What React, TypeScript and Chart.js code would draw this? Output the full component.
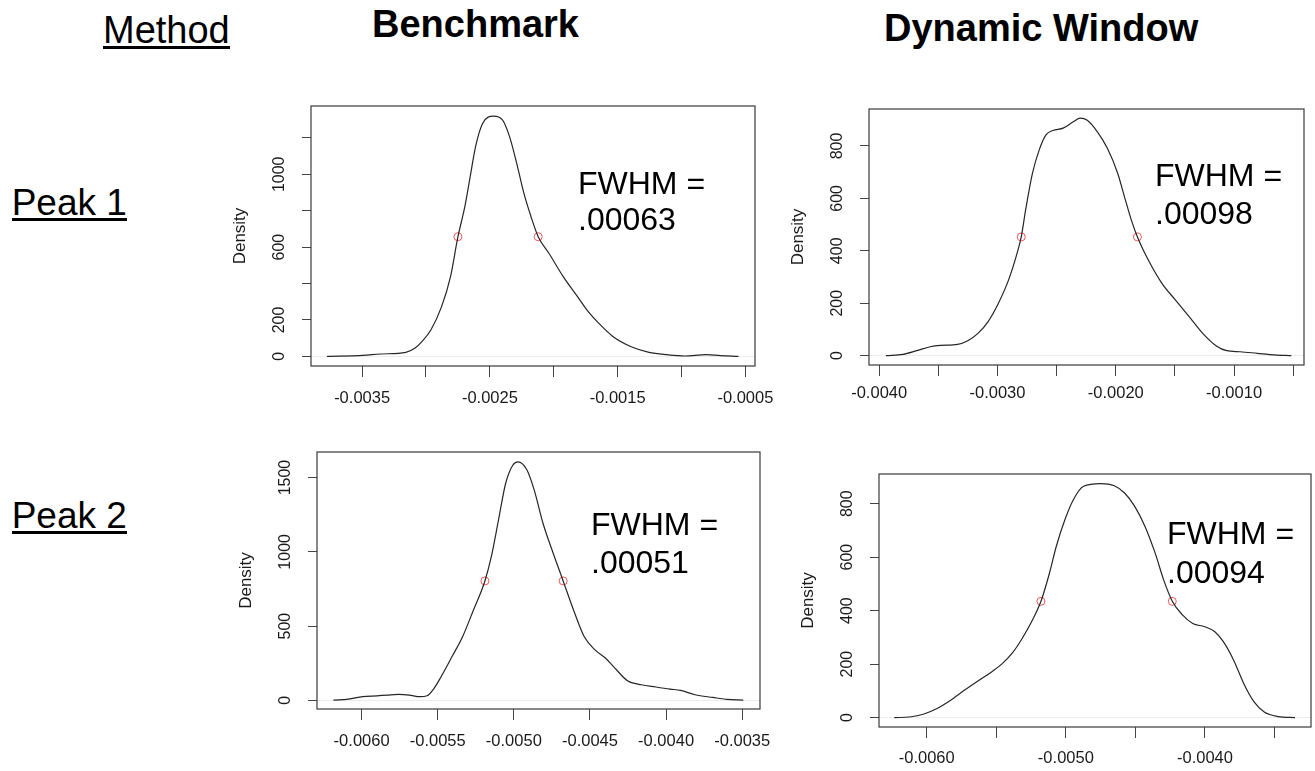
import React, { useEffect, useRef } from "react";
import { Chart, registerables } from "chart.js";

Chart.register(...registerables);
Chart.defaults.font.family = '"Liberation Sans", Arial, Helvetica, sans-serif';

// ---------- Data: Benchmark, Peak 1 ----------
const bmP1X = [-0.003775, -0.003494, -0.003354, -0.003158, -0.003088, -0.003032, -0.002962, -0.002878, -0.002808, -0.00275, -0.002696, -0.002654, -0.002612, -0.002556, -0.002472, -0.002402, -0.002346, -0.00229, -0.002234, -0.002178, -0.002122, -0.002038, -0.001926, -0.001814, -0.00173, -0.001647, -0.001535, -0.001394, -0.001254, -0.001115, -0.000975, -0.000807, -0.000695, -0.000555];
const bmP1Y = [0, 5, 13, 22, 44, 81, 145, 273, 438, 657, 822, 987, 1152, 1280, 1319, 1299, 1207, 1060, 896, 767, 657, 566, 438, 328, 245, 181, 108, 53, 22, 9, 2, 9, 4, 0];
const bmP1HalfX = [-0.00275, -0.002122];
const bmP1HalfY = [657, 657];
const bmP1XTicks = [-0.0035, -0.003, -0.0025, -0.002, -0.0015, -0.001, -0.0005];
const bmP1XLabels = ["-0.0035", "", "-0.0025", "", "-0.0015", "", "-0.0005"];
const bmP1YTicks = [0, 200, 400, 600, 800, 1000, 1200];
const bmP1YLabels = ["0", "200", "", "600", "", "1000", ""];

// ---------- Data: Dynamic Window, Peak 1 ----------
const dwP1X = [-0.003942, -0.003798, -0.003683, -0.003568, -0.003482, -0.003338, -0.003251, -0.003165, -0.003079, -0.002992, -0.002906, -0.002834, -0.002799, -0.002762, -0.002704, -0.002647, -0.00259, -0.002532, -0.002445, -0.002359, -0.002301, -0.002244, -0.002157, -0.002071, -0.001984, -0.001927, -0.001869, -0.001817, -0.001725, -0.00161, -0.001495, -0.00138, -0.001265, -0.00115, -0.001063, -0.000948, -0.000804, -0.00066, -0.000516];
const dwP1Y = [0, 5, 19, 34, 39, 43, 57, 85, 130, 200, 289, 391, 453, 556, 696, 785, 842, 859, 868, 892, 906, 899, 855, 791, 696, 607, 518, 453, 365, 276, 212, 149, 85, 37, 19, 15, 9, 3, 0];
const dwP1HalfX = [-0.002799, -0.001817];
const dwP1HalfY = [453, 453];
const dwP1XTicks = [-0.004, -0.0035, -0.003, -0.0025, -0.002, -0.0015, -0.001, -0.0005];
const dwP1XLabels = ["-0.0040", "", "-0.0030", "", "-0.0020", "", "-0.0010", ""];
const dwP1YTicks = [0, 200, 400, 600, 800];
const dwP1YLabels = ["0", "200", "400", "600", "800"];

// ---------- Data: Benchmark, Peak 2 ----------
const bmP2X = [-0.006185, -0.006087, -0.005993, -0.005899, -0.005829, -0.005758, -0.005688, -0.005617, -0.00557, -0.005523, -0.005477, -0.005406, -0.005336, -0.005265, -0.00519, -0.005148, -0.005101, -0.005054, -0.005007, -0.004972, -0.004913, -0.004866, -0.004808, -0.004749, -0.004676, -0.004608, -0.004538, -0.004467, -0.004397, -0.004326, -0.004256, -0.004162, -0.004068, -0.003974, -0.003904, -0.00381, -0.003693, -0.003599, -0.003493];
const bmP2Y = [2, 9, 25, 31, 36, 40, 36, 25, 31, 83, 161, 295, 430, 609, 804, 967, 1213, 1460, 1583, 1605, 1549, 1415, 1191, 1012, 804, 609, 430, 340, 284, 206, 134, 105, 90, 76, 67, 38, 20, 7, 2];
const bmP2HalfX = [-0.00519, -0.004676];
const bmP2HalfY = [804, 804];
const bmP2XTicks = [-0.006, -0.0055, -0.005, -0.0045, -0.004, -0.0035];
const bmP2XLabels = ["-0.0060", "-0.0055", "-0.0050", "-0.0045", "-0.0040", "-0.0035"];
const bmP2YTicks = [0, 500, 1000, 1500];
const bmP2YLabels = ["0", "500", "1000", "1500"];

// ---------- Data: Dynamic Window, Peak 2 ----------
const dwP2X = [-0.006233, -0.006123, -0.006025, -0.005926, -0.005828, -0.00573, -0.005632, -0.005534, -0.005461, -0.005387, -0.005314, -0.00524, -0.005179, -0.005118, -0.005069, -0.005007, -0.004946, -0.004873, -0.00475, -0.004652, -0.004578, -0.004505, -0.004431, -0.004358, -0.004297, -0.004235, -0.004162, -0.004088, -0.004002, -0.003929, -0.003868, -0.003794, -0.003721, -0.003647, -0.003574, -0.003475, -0.003353];
const dwP2Y = [0, 2.5, 12.5, 34, 65, 102, 137, 171, 200, 240, 296, 365, 435, 540, 640, 740, 815, 865, 875, 867, 840, 790, 715, 615, 515, 435, 384, 352, 340, 321, 284, 215, 127, 59, 21, 4, 0];
const dwP2HalfX = [-0.005179, -0.004235];
const dwP2HalfY = [435, 435];
const dwP2XTicks = [-0.006, -0.0055, -0.005, -0.0045, -0.004, -0.0035];
const dwP2XLabels = ["-0.0060", "", "-0.0050", "", "-0.0040", ""];
const dwP2YTicks = [0, 200, 400, 600, 800];
const dwP2YLabels = ["0", "200", "400", "600", "800"];

// ---------- Text ----------
const fwhmPrefix = "FWHM =";
const fwhmValues = [".00063", ".00098", ".00051", ".00094"];
const columnTitles = ["Benchmark", "Dynamic Window"];
const rowTitles = ["Peak 1", "Peak 2"];
const cornerTitle = "Method";
const yAxisTitle = "Density";

// ---------- Layout ----------
const PAD_L = 100;
const PAD_T = 10;
const PAD_R = 45;
const PAD_B = 55;
const X_TICK_FONT = 16.5;
const X_TICK_LEN = 11;

type Box = { l: number; t: number; r: number; b: number };

type PanelProps = {
  xs: number[];
  ys: number[];
  hx: number[];
  hy: number[];
  xTicks: number[];
  xLabels: string[];
  yTicks: number[];
  yLabels: string[];
  xMin: number;
  xMax: number;
  yMin: number;
  yMax: number;
  box: Box;
  xLabelOffset: number;
};

function Panel(p: PanelProps) {
  const ref = useRef<HTMLCanvasElement>(null);
  const w = p.box.r - p.box.l + PAD_L + PAD_R;
  const h = p.box.b - p.box.t + PAD_T + PAD_B;

  useEffect(() => {
    const canvas = ref.current;
    if (!canvas) return;
    const framePlugin = {
      id: "frame",
      afterDraw(chart: any) {
        const { ctx, chartArea } = chart;
        const { left, top, right, bottom } = chartArea;
        ctx.save();
        ctx.strokeStyle = "#3a3a3a";
        ctx.lineWidth = 1.2;
        ctx.strokeRect(left, top, right - left, bottom - top);
        const ys = chart.scales.y;
        ctx.fillStyle = "#1a1a1a";
        ctx.font = '16px "Liberation Sans", Arial, sans-serif';
        ctx.textAlign = "center";
        ctx.textBaseline = "middle";
        p.yTicks.forEach((v, i) => {
          const lab = p.yLabels[i];
          if (!lab) return;
          const py = ys.getPixelForValue(v);
          ctx.save();
          ctx.translate(left - 31, py);
          ctx.rotate(-Math.PI / 2);
          ctx.fillText(lab, 0, 0);
          ctx.restore();
        });
        ctx.font = '17px "Liberation Sans", Arial, sans-serif';
        ctx.save();
        ctx.translate(left - 71, (top + bottom) / 2);
        ctx.rotate(-Math.PI / 2);
        ctx.fillText(yAxisTitle, 0, 0);
        ctx.restore();
        ctx.restore();
      },
    };

    const chart = new Chart(canvas, {
      type: "line",
      data: {
        datasets: [
          {
            data: p.xs.map((x, i) => ({ x, y: p.ys[i] })),
            borderColor: "#262626",
            borderWidth: 1.2,
            pointRadius: 0,
            cubicInterpolationMode: "monotone",
            fill: false,
          } as any,
          {
            type: "scatter",
            data: p.hx.map((x, i) => ({ x, y: p.hy[i] })),
            pointStyle: "circle",
            pointRadius: 4,
            borderColor: "rgba(235,60,60,0.85)",
            backgroundColor: "rgba(0,0,0,0)",
            borderWidth: 1,
            showLine: false,
          } as any,
        ],
      },
      options: {
        responsive: false,
        animation: false,
        events: [],
        layout: { padding: { left: 0, top: PAD_T, right: PAD_R, bottom: 0 } },
        plugins: { legend: { display: false }, tooltip: { enabled: false } },
        scales: {
          x: {
            type: "linear",
            position: "bottom",
            min: p.xMin,
            max: p.xMax,
            afterBuildTicks: (s: any) => {
              s.ticks = p.xTicks.map((v) => ({ value: v }));
            },
            afterFit: (s: any) => {
              s.height = PAD_B;
            },
            grid: {
              drawOnChartArea: false,
              drawTicks: true,
              tickLength: X_TICK_LEN,
              tickColor: "#444",
              tickWidth: 1,
            },
            border: { display: false },
            ticks: {
              autoSkip: false,
              minRotation: 0,
              maxRotation: 0,
              padding: p.xLabelOffset - X_TICK_LEN - X_TICK_FONT * 0.6,
              color: "#1a1a1a",
              font: { size: X_TICK_FONT },
              callback: (_v: any, i: number) => p.xLabels[i],
            },
          },
          y: {
            type: "linear",
            min: p.yMin,
            max: p.yMax,
            afterBuildTicks: (s: any) => {
              s.ticks = p.yTicks.map((v) => ({ value: v }));
            },
            afterFit: (s: any) => {
              s.width = PAD_L;
            },
            grid: {
              drawOnChartArea: true,
              drawTicks: true,
              tickLength: 9,
              color: (c: any) => (c.tick && c.tick.value === 0 ? "#ececec" : "rgba(0,0,0,0)"),
              tickColor: "#444",
              tickWidth: 1,
            },
            border: { display: false },
            ticks: { display: false },
          },
        },
      } as any,
      plugins: [framePlugin],
    });
    return () => chart.destroy();
  }, []);

  return (
    <canvas
      ref={ref}
      width={w}
      height={h}
      style={{ position: "absolute", left: p.box.l - PAD_L, top: p.box.t - PAD_T, width: w, height: h }}
    />
  );
}

const FONT = '"Liberation Sans", Arial, Helvetica, sans-serif';

function Txt(props: { x: number; baseline: number; size: number; text: string; bold?: boolean; underline?: number }) {
  const top = props.baseline - 0.8465 * props.size;
  const style: React.CSSProperties = {
    position: "absolute",
    left: props.x,
    top,
    fontSize: props.size,
    lineHeight: `${props.size}px`,
    fontFamily: FONT,
    fontWeight: props.bold ? 700 : 400,
    color: "#000",
    whiteSpace: "nowrap",
  };
  if (props.underline !== undefined) {
    style.height = props.underline - top;
    style.borderBottom = "3px solid #000";
    style.display = "inline-block";
  }
  return <div style={style}>{props.text}</div>;
}

export default function App() {
  return (
    <div
      style={{
        position: "absolute",
        left: 0,
        top: 0,
        width: 1315,
        height: 771,
        overflow: "hidden",
        background: "#fff",
        fontFamily: FONT,
      }}
    >
      <Txt x={103} baseline={43.3} size={38} text={cornerTitle} underline={46.2} />
      <Txt x={372} baseline={37.3} size={38} text={columnTitles[0]} bold />
      <Txt x={884} baseline={41} size={38} text={columnTitles[1]} bold />
      <Txt x={11.7} baseline={215} size={37} text={rowTitles[0]} underline={217.7} />
      <Txt x={11.7} baseline={528.3} size={37} text={rowTitles[1]} underline={531} />

      <Panel
        xs={bmP1X} ys={bmP1Y} hx={bmP1HalfX} hy={bmP1HalfY}
        xTicks={bmP1XTicks} xLabels={bmP1XLabels} yTicks={bmP1YTicks} yLabels={bmP1YLabels}
        xMin={-0.0039} xMax={-0.000425} yMin={-53} yMax={1375}
        box={{ l: 311, t: 106, r: 755, b: 366 }} xLabelOffset={32.6}
      />
      <Panel
        xs={dwP1X} ys={dwP1Y} hx={dwP1HalfX} hy={dwP1HalfY}
        xTicks={dwP1XTicks} xLabels={dwP1XLabels} yTicks={dwP1YTicks} yLabels={dwP1YLabels}
        xMin={-0.004086} xMax={-0.000409} yMin={-35.6} yMax={941}
        box={{ l: 869, t: 109, r: 1304, b: 365 }} xLabelOffset={28.5}
      />
      <Panel
        xs={bmP2X} ys={bmP2Y} hx={bmP2HalfX} hy={bmP2HalfY}
        xTicks={bmP2XTicks} xLabels={bmP2XLabels} yTicks={bmP2YTicks} yLabels={bmP2YLabels}
        xMin={-0.006293} xMax={-0.003383} yMin={-58} yMax={1672}
        box={{ l: 317, t: 452, r: 760, b: 709 }} xLabelOffset={32.4}
      />
      <Panel
        xs={dwP2X} ys={dwP2Y} hx={dwP2HalfX} hy={dwP2HalfY}
        xTicks={dwP2XTicks} xLabels={dwP2XLabels} yTicks={dwP2YTicks} yLabels={dwP2YLabels}
        xMin={-0.006343} xMax={-0.003238} yMin={-35} yMax={911}
        box={{ l: 879, t: 474, r: 1311, b: 727 }} xLabelOffset={31.6}
      />

      <Txt x={578} baseline={194.3} size={32} text={fwhmPrefix} />
      <Txt x={578} baseline={230} size={32} text={fwhmValues[0]} />
      <Txt x={1155} baseline={186} size={32} text={fwhmPrefix} />
      <Txt x={1155} baseline={224} size={32} text={fwhmValues[1]} />
      <Txt x={591} baseline={535} size={32} text={fwhmPrefix} />
      <Txt x={591} baseline={573.3} size={32} text={fwhmValues[2]} />
      <Txt x={1167} baseline={544} size={32} text={fwhmPrefix} />
      <Txt x={1167} baseline={582.7} size={32} text={fwhmValues[3]} />
    </div>
  );
}
